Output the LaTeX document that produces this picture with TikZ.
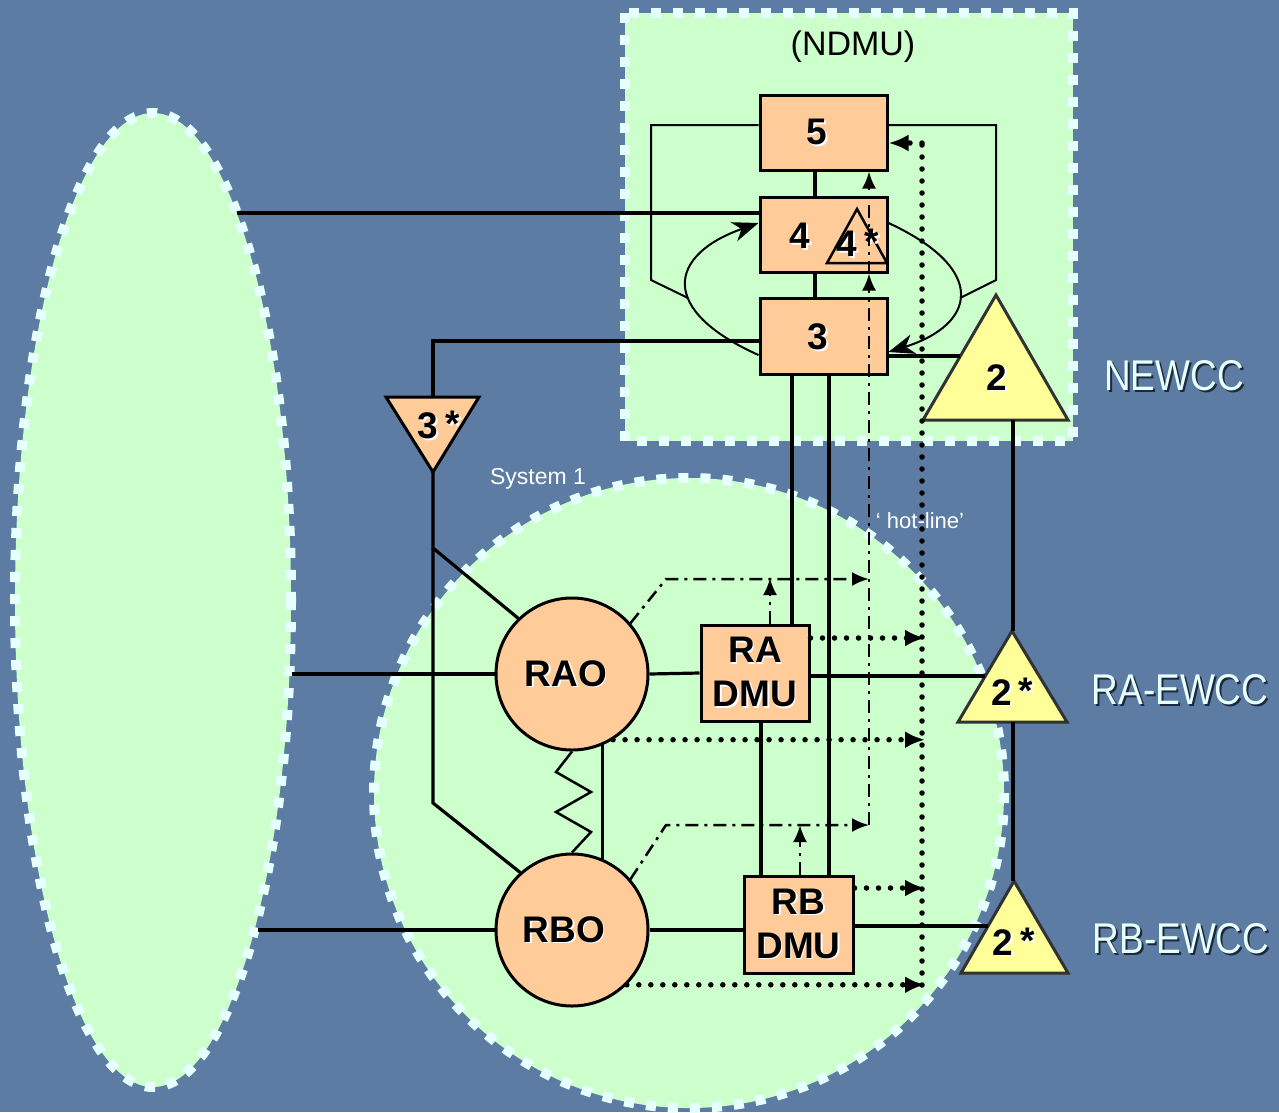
\documentclass[tikz,border=0pt]{standalone}
\usepackage{fontspec}
\setmainfont{Liberation Sans}
\newfontfamily\narrowfont{Liberation Sans}[FakeStretch=0.86]
\usetikzlibrary{arrows.meta}
\definecolor{bg}{RGB}{92,124,163}
\definecolor{grn}{RGB}{204,255,204}
\definecolor{brd}{RGB}{230,255,255}
\definecolor{peach}{RGB}{255,204,153}
\definecolor{yel}{RGB}{255,255,153}
\definecolor{shd}{RGB}{30,40,60}
\definecolor{tribrd}{RGB}{50,50,50}
\newcommand\whsh[1]{\leavevmode\rlap{\kern1.5pt\raisebox{-1.5pt}{\color{white}#1}}#1}
\newcommand\dksh[1]{\leavevmode\rlap{\kern2pt\raisebox{-2pt}{\color{shd}#1}}{\color{brd}#1}}
\tikzset{
  region/.style={fill=grn, draw=brd, line width=10pt, dash pattern=on 10pt off 12pt},
  lbl/.style={inner sep=0pt, font=\bfseries\fontsize{37}{44}\selectfont},
  boxnode/.style={draw=black, line width=3pt, fill=peach, minimum width=127pt, minimum height=75pt, inner sep=0pt, align=center, font=\bfseries\fontsize{37}{44}\selectfont},
  circnode/.style={circle, draw=black, line width=3pt, fill=peach, minimum size=152pt, inner sep=0pt, font=\bfseries\fontsize{37}{44}\selectfont},
  tri/.style={draw=tribrd, line width=3pt, line join=miter},
  thk/.style={draw=black, line width=3.2pt},
  thn/.style={draw=black, line width=2pt},
  dd/.style={draw=black, line width=2.5pt, dash pattern=on 13pt off 6pt on 3pt off 6pt},
  dotl/.style={draw=black, line width=5.5pt, dash pattern=on 0pt off 12pt, line cap=round},
  bigtip/.style={-{Latex[length=20pt,width=17pt]}},
  ddtip/.style={-{Latex[length=17pt,width=14pt]}},
  crvtip/.style={-{Stealth[length=26pt,width=20pt,inset=8pt]}},
  side/.style={inner sep=0pt, font=\narrowfont\fontsize{43}{50}\selectfont},
}
\begin{document}
\begin{tikzpicture}[x=1pt,y=-1pt]
\path[fill=bg] (0,0) rectangle (1279,1112);
\useasboundingbox (0,0) rectangle (1279,1112);

% regions
\draw[region] (153,600) ellipse [x radius=138, y radius=487];
\draw[region] (689,793) circle [radius=315];
\draw[region] (625,13) rectangle (1073,441);

% texts on regions
\node[inner sep=0pt, font=\fontsize{34}{40}\selectfont] (ndmu) at (853,47) {(NDMU)};
\node[inner sep=0pt, text=white, font=\fontsize{23}{28}\selectfont] (sys1) at (538,479) {System 1};
\node[inner sep=0pt, text=white, font=\fontsize{22}{26}\selectfont] (hot) at (920,521) {‘ hot-line’};
\node[side] (newcc) at (1174,377) {\dksh{NEWCC}};
\node[side] (raewcc) at (1180,691) {\dksh{RA-EWCC}};
\node[side] (rbewcc) at (1181,940) {\dksh{RB-EWCC}};

% main nodes
\node[boxnode] (b5) at (823.5,132.5) {};
\node[boxnode] (b4) at (823.5,234.5) {};
\node[boxnode, minimum height=76pt] (b3) at (823.5,336) {};
\node[lbl] (l5) at (817,133) {\whsh{5}};
\node[lbl] (l4) at (800,237) {\whsh{4}};
\node[lbl] (l3) at (818,338) {\whsh{3}};
\node[boxnode, minimum width=108pt, minimum height=96pt] (radmu) at (755,673) {\whsh{RA}\\\whsh{DMU}};
\node[boxnode, minimum width=109pt, minimum height=97pt] (rbdmu) at (798.5,924.5) {\whsh{RB}\\\whsh{DMU}};
\node[circnode] (rao) at (572,674) {\kern-12pt\whsh{RAO}};
\node[circnode] (rbo) at (572,930) {\kern-16pt\whsh{RBO}};

% small triangle 4*
\coordinate (s4a) at (857,209);
\coordinate (s4l) at (827,263);
\coordinate (s4r) at (887,263);
\draw[draw=black, line width=2.5pt, line join=miter] (s4a) -- (s4r) -- (s4l) -- cycle;
\node[lbl] (l4s) at (847,245) {\whsh{4}};
\node[lbl] (l4star) at (872,243) {\whsh{*}};

% triangle 2
\coordinate (t2a) at (996,295);
\coordinate (t2l) at (923,420);
\coordinate (t2r) at (1068,420);
\draw[tri, fill=yel] (t2a) -- (t2r) -- (t2l) -- cycle;
\node[lbl] (l2) at (997,378) {\whsh{2}};
% triangle 2* (RA)
\coordinate (ta) at (1012,631);
\coordinate (tal) at (958,722);
\coordinate (tar) at (1067,722);
\draw[tri, fill=yel] (ta) -- (tar) -- (tal) -- cycle;
\node[lbl] (l2a) at (1002,693) {\whsh{2}};
\node[lbl] (l2as) at (1026,692) {\whsh{*}};
% triangle 2* (RB)
\coordinate (tb) at (1014,881);
\coordinate (tbl) at (961,973);
\coordinate (tbr) at (1068,973);
\draw[tri, fill=yel] (tb) -- (tbr) -- (tbl) -- cycle;
\node[lbl] (l2b) at (1003,943) {\whsh{2}};
\node[lbl] (l2bs) at (1028,942) {\whsh{*}};
% triangle 3*
\coordinate (t3l) at (386,397);
\coordinate (t3r) at (479,397);
\coordinate (t3a) at (433,472);
\draw[draw=black, line width=3pt, fill=peach, line join=miter] (t3l) -- (t3r) -- (t3a) -- cycle;
\node[lbl] (l3s) at (428,427) {\whsh{3}};
\node[lbl] (l3ss) at (453,425) {\whsh{*}};

% edge points on the left ellipse
\coordinate (e1) at (237,213);
\coordinate (e2) at (292,674);
\coordinate (e3) at (258,930);
\coordinate (j1) at (433,548);
\coordinate (j2) at (433,803);

% thick connectors
\draw[thk] (e1) -- (b4.west |- e1);
\draw[thk] (e2) -- (rao.west);
\draw[thk] (e3) -- (rbo.west);
\draw[thk] (rao.east) -- (radmu.west);
\draw[thk] (rbo.east) -- (rbdmu.west |- rbo.east);
\draw[thk] (radmu.east |- 0,676) -- (985,676);
\draw[thk] (rbdmu.east |- 0,926) -- (988,926);
\draw[thk] (815,0 |- b5.south) -- (815,0 |- b4.north);
\draw[thk] (815,0 |- b4.south) -- (815,0 |- b3.north);
\draw[thk] (b3.west |- 0,341) -- (433,341) -- (t3a |- t3l);
\draw[thk] (t3a) -- (j1) -- (rao.134);
\draw[thk] (j1) -- (j2) -- (rbo.132);
\draw[thk] (rao.-67.6) -- (rbo.67.6);
\draw[thk] (792,0 |- b3.south) -- (792,0 |- radmu.north);
\draw[thk] (829,0 |- b3.south) -- (829,0 |- rbdmu.north);
\draw[thk] (761,0 |- radmu.south) -- (761,0 |- rbdmu.north);
\draw[thk] (1013,420) -- (1013,631);
\draw[thk] (1013,722) -- (1013,881);
\draw[thk] (960,356) -- (b3.east |- 0,356);

% zigzag
\draw[thn, line width=2.5pt, line join=miter] (rao.-90) -- (556,772) -- (591,792) -- (556,812) -- (591,832) -- (rbo.90);

% feedback loops
\draw[thn] (b5.west |- 0,125) -- (651,125) -- (651,280) -- (688,298);
\draw[thn] (b5.east |- 0,125) -- (996,125) -- (996,280) -- (960,298);
\draw[thn, crvtip] (b3.west |- 0,355) .. controls (658,310) and (668,255) .. (b4.west |- 0,223);
\draw[thn, crvtip] (b4.east |- 0,223) .. controls (990,270) and (975,325) .. (b3.east |- 0,352);

% hot-line (dash-dot)
\draw[dd, ddtip] (rao.41) -- (666,579) -- (869,579);
\draw[dd, ddtip] (770,0 |- radmu.north) -- (770,578);
\draw[dd, ddtip] (rbo.41) -- (666,825) -- (869,825);
\draw[dd, ddtip] (800,0 |- rbdmu.north) -- (800,825);
\draw[dd, ddtip] (869,825) -- (869,0 |- b4.south);
\draw[dd, ddtip] (869,0 |- b4.south) -- (869,0 |- b5.south);

% dotted lines
\draw[dotl] (922,985) -- (922,143);
\draw[dotl, bigtip] (922,143) -- (b5.east |- 0,143);
\draw[dotl, bigtip] (radmu.east |- 0,638) -- (925,638);
\draw[dotl, bigtip] (rao.-58) -- (925,0 |- rao.-58);
\draw[dotl, bigtip] (rbdmu.east |- 0,888) -- (925,888);
\draw[dotl, bigtip] (rbo.-45) -- (925,0 |- rbo.-45);
\end{tikzpicture}
\end{document}
